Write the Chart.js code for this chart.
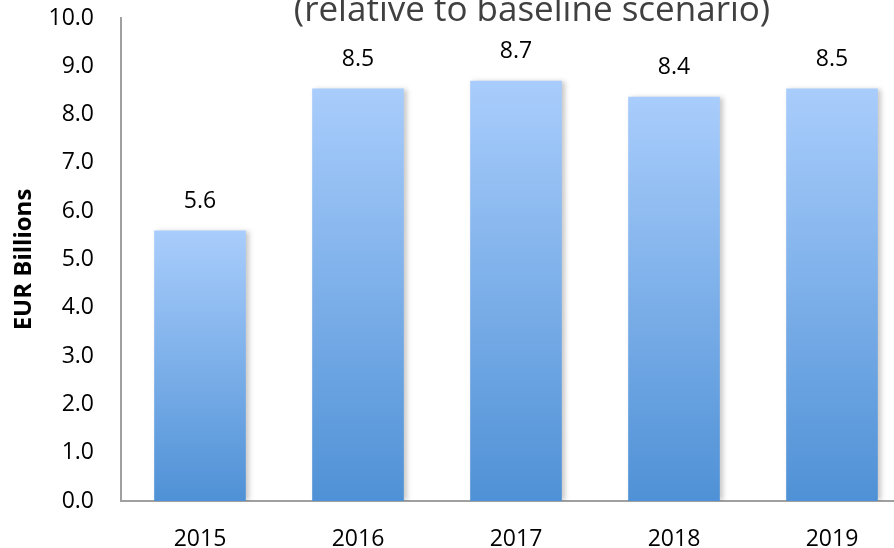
<!DOCTYPE html>
<html lang="en">
<head>
    <meta charset="UTF-8">
    <title>EUR Billions</title>
    <script src="https://cdn.jsdelivr.net/npm/chart.js"></script>
    <style>
        body {
            margin: 0;
            background-color: #fff;
            overflow: hidden;
        }
        #wrap {
            width: 920px;
            height: 548px;
        }
    </style>
</head>
<body>
    <div id="wrap">
        <canvas id="chart" width="920" height="548"></canvas>
    </div>

    <script>
        // Chart data
        const years = ['2015', '2016', '2017', '2018', '2019'];
        const values = [5.6, 8.54, 8.7, 8.37, 8.54];
        const yTicks = [0, 1, 2, 3, 4, 5, 6, 7, 8, 9, 10];
        const titleText = '(relative to baseline scenario)';
        const yTitle = 'EUR Billions';

        const fontFamily = "'Open Sans', sans-serif";

        // Gradient per bar: light at its top, darker at the axis
        function barGradient(ctx) {
            const chart = ctx.chart;
            if (!chart.chartArea || ctx.type !== 'data') return '#7aaee8';
            const y = chart.scales.y;
            const top = y.getPixelForValue(ctx.raw);
            const bottom = y.getPixelForValue(0);
            const g = chart.ctx.createLinearGradient(0, top, 0, bottom);
            g.addColorStop(0, '#a9cdfc');
            g.addColorStop(1, '#4f91d6');
            return g;
        }

        // Soft shadow on the right side of the bars
        const barShadow = {
            id: 'barShadow',
            beforeDatasetsDraw(chart) {
                const ctx = chart.ctx;
                ctx.save();
                ctx.shadowColor = 'rgba(0, 0, 0, 0.22)';
                ctx.shadowBlur = 5;
                ctx.shadowOffsetX = 3;
                ctx.shadowOffsetY = 0;
            },
            afterDatasetsDraw(chart) {
                chart.ctx.restore();
            }
        };

        // Value labels above bars and the clipped heading
        const extras = {
            id: 'extras',
            afterDraw(chart) {
                const ctx = chart.ctx;
                const meta = chart.getDatasetMeta(0);
                ctx.save();
                ctx.fillStyle = '#000';
                ctx.font = '23px ' + fontFamily;
                ctx.textAlign = 'center';
                ctx.textBaseline = 'middle';
                meta.data.forEach((bar, i) => {
                    ctx.fillText(values[i].toFixed(1), bar.x, bar.y - 29);
                });
                ctx.fillStyle = '#404040';
                ctx.font = '35px ' + fontFamily;
                ctx.textBaseline = 'alphabetic';
                ctx.fillText(titleText, 532, 21);
                ctx.restore();
            }
        };

        new Chart(document.getElementById('chart').getContext('2d'), {
            type: 'bar',
            data: {
                labels: years,
                datasets: [{
                    data: values,
                    backgroundColor: barGradient,
                    borderWidth: 0,
                    categoryPercentage: 1,
                    barPercentage: 0.58
                }]
            },
            options: {
                responsive: false,
                animation: false,
                devicePixelRatio: 1,
                layout: {
                    padding: { top: 18, right: 9, left: 0, bottom: 0 }
                },
                plugins: {
                    legend: { display: false },
                    tooltip: { enabled: false }
                },
                scales: {
                    x: {
                        grid: { display: false, drawTicks: false },
                        border: { display: true, color: '#a0a0a0', width: 2 },
                        ticks: {
                            color: '#000',
                            padding: 25,
                            maxRotation: 0,
                            font: { family: fontFamily, size: 23 }
                        },
                        afterFit(scale) { scale.height = 47; }
                    },
                    y: {
                        min: 0,
                        max: 10,
                        afterBuildTicks(scale) {
                            scale.ticks = yTicks.map(v => ({ value: v }));
                        },
                        grid: { display: false, drawTicks: false },
                        border: { display: true, color: '#a0a0a0', width: 2 },
                        ticks: {
                            color: '#000',
                            padding: 27,
                            font: { family: fontFamily, size: 23 },
                            callback: v => Number(v).toFixed(1)
                        },
                        title: {
                            display: true,
                            text: yTitle,
                            color: '#000',
                            padding: { top: 10, bottom: 0 },
                            font: { family: fontFamily, size: 24, weight: 'bold' }
                        },
                        afterFit(scale) {
                            scale.width = 121;
                            scale.paddingTop = 0;
                            scale.paddingBottom = 0;
                        }
                    }
                }
            },
            plugins: [barShadow, extras]
        });
    </script>
</body>
</html>
